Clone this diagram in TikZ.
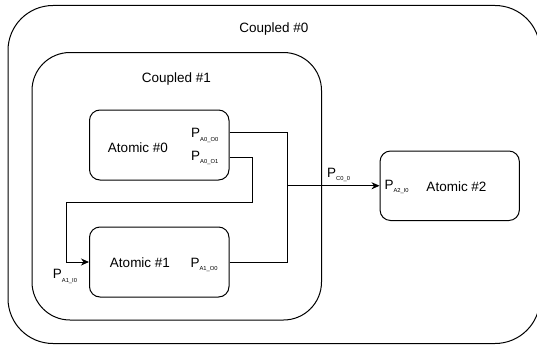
\documentclass[tikz,border=0pt]{standalone}
\usepackage{fontspec}
\setmainfont{Liberation Sans}
\usepackage{tikz}
\usetikzlibrary{arrows.meta,positioning,calc}
\newcommand{\portname}[1]{P\raisebox{-3.5pt}{\fontsize{5.8}{7}\selectfont #1}}

\begin{document}
\begin{tikzpicture}[x=1pt, y=-1pt, >={Stealth[length=8pt, width=7pt, inset=2.5pt]},
    font=\fontsize{13.5}{16}\selectfont, line width=1pt,
    coupledbox/.style={draw, rounded corners=#1},
    atomicbox/.style={draw, rounded corners=10.5pt, minimum width=139.5pt, minimum height=70pt},
    portlbl/.style={anchor=base west, inner sep=0pt},
    boxlbl/.style={anchor=base, inner sep=0pt}]
  \useasboundingbox (0,0) rectangle (537,345);
  % containers
  \node[coupledbox=45pt, minimum width=532pt, minimum height=338pt] (cpl0) at (274,174.5) {};
  \node[boxlbl] (cpl0lbl) at (274,32.5) {Coupled \#0};
  \node[coupledbox=38pt, minimum width=289.5pt, minimum height=267.5pt] (cpl1) at (176.75,186.25) {};
  \node[boxlbl] (cpl1lbl) at (176.5,82) {Coupled \#1};
  % atomic models
  \node[atomicbox] (a0) at (159.25,145) {};
  \node[atomicbox] (a1) at (159.25,262) {};
  \node[atomicbox, minimum width=139.3pt, minimum height=69.5pt] (a2) at (449.7,185.75) {};
  \node[boxlbl] (a0lbl) at (138,152.5) {Atomic \#0};
  \node[boxlbl] (a1lbl) at (140,267) {Atomic \#1};
  \node[boxlbl] (a2lbl) at (456.5,191) {Atomic \#2};
  % ports
  \node[portlbl] (pa0o0) at (190.7,137.7) {\portname{A0\_O0}};
  \node[portlbl] (pa0o1) at (190.7,160) {\portname{A0\_O1}};
  \node[portlbl] (pa1o0) at (190,267) {\portname{A1\_O0}};
  \node[portlbl] (pa1i0) at (52.4,278.5) {\portname{A1\_I0}};
  \node[portlbl] (pa2i0) at (384,189.3) {\portname{A2\_I0}};
  \node[portlbl] (pc00) at (326.7,177.3) {\portname{C0\_0}};
  % couplings
  \coordinate (a0out0) at ($(a0.east)+(0,-12.7)$);
  \coordinate (a0out1) at ($(a0.east)+(0,12.3)$);
  \coordinate (join) at (287.3,185.75);
  \coordinate (loopA) at (252.3,202.7);
  \coordinate (loopB) at (66.8,202.7);
  \draw (a0out0) -| (join);
  \draw (a1.east) -| (join);
  \draw[->] (join) -- (a2.west);
  \draw[->] (a0out1) -| (loopA) -- (loopB) |- (a1.west);
\end{tikzpicture}
\end{document}
